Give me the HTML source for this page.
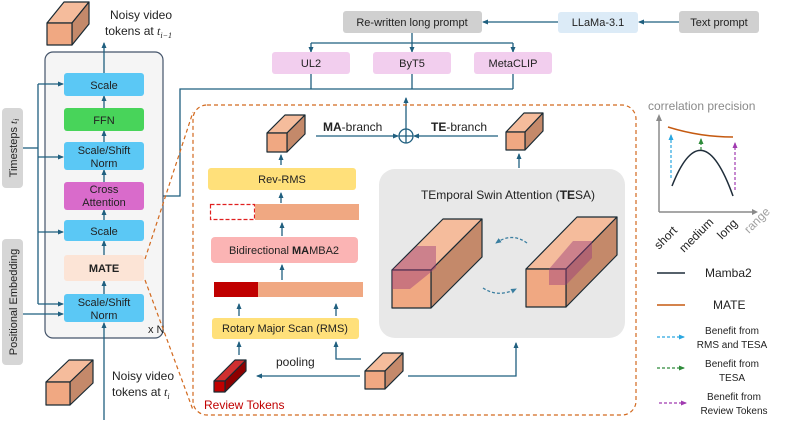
<!DOCTYPE html>
<html><head><meta charset="utf-8"><style>
html,body{margin:0;padding:0;background:#fff;}
svg{display:block;font-family:"Liberation Sans",sans-serif;}
</style></head><body>
<svg width="789" height="425" viewBox="0 0 789 425" xmlns="http://www.w3.org/2000/svg">
<defs>
<marker id="a" markerWidth="6" markerHeight="6" refX="5" refY="3" orient="auto" markerUnits="userSpaceOnUse"><path d="M0,0.5 L6,3 L0,5.5z" fill="#1F5F7F"/></marker>
<marker id="ab" markerWidth="6" markerHeight="6" refX="5" refY="3" orient="auto" markerUnits="userSpaceOnUse"><path d="M0,0.5 L6,3 L0,5.5z" fill="#2AA7E0"/></marker>
<marker id="ag" markerWidth="6" markerHeight="6" refX="5" refY="3" orient="auto" markerUnits="userSpaceOnUse"><path d="M0,0.5 L6,3 L0,5.5z" fill="#2E8B3A"/></marker>
<marker id="ap" markerWidth="6" markerHeight="6" refX="5" refY="3" orient="auto" markerUnits="userSpaceOnUse"><path d="M0,0.5 L6,3 L0,5.5z" fill="#A03AB0"/></marker>
<marker id="ac" markerWidth="6" markerHeight="6" refX="5" refY="3" orient="auto" markerUnits="userSpaceOnUse"><path d="M0,0.5 L6,3 L0,5.5z" fill="#3A7EA0"/></marker>
</defs>

<rect x="343" y="11" width="139" height="22" rx="3" fill="#D0D0D0"/>
<text x="412" y="26" font-size="11" text-anchor="middle" fill="#222">Re-written long prompt</text>
<rect x="558" y="12" width="80" height="21" rx="3" fill="#DCEBF7"/>
<text x="598" y="26" font-size="11" text-anchor="middle" fill="#222">LLaMa-3.1</text>
<rect x="679" y="11" width="80" height="22" rx="3" fill="#D0D0D0"/>
<text x="719" y="26" font-size="11" text-anchor="middle" fill="#222">Text prompt</text>
<g stroke="#1F5F7F" stroke-width="1.3" fill="none">
<line x1="679" y1="22" x2="639" y2="22" marker-end="url(#a)"/>
<line x1="558" y1="22" x2="483" y2="22" marker-end="url(#a)"/>
<line x1="412" y1="33" x2="412" y2="43"/>
<line x1="311" y1="43" x2="513" y2="43"/>
<line x1="311" y1="43" x2="311" y2="52" marker-end="url(#a)"/>
<line x1="412" y1="43" x2="412" y2="52" marker-end="url(#a)"/>
<line x1="513" y1="43" x2="513" y2="52" marker-end="url(#a)"/>
<line x1="311" y1="74" x2="311" y2="89"/>
<line x1="412" y1="74" x2="412" y2="89"/>
<line x1="513" y1="74" x2="513" y2="89"/>
<polyline points="513,89 180,89 180,196 146,196" marker-end="url(#a)"/>
<line x1="406" y1="129" x2="406" y2="98" marker-end="url(#a)"/>
</g>
<rect x="272" y="52" width="78" height="22" rx="3" fill="#F2CEEE"/>
<text x="311" y="67" font-size="11" text-anchor="middle" fill="#222">UL2</text>
<rect x="373" y="52" width="78" height="22" rx="3" fill="#F2CEEE"/>
<text x="412" y="67" font-size="11" text-anchor="middle" fill="#222">ByT5</text>
<rect x="474" y="52" width="78" height="22" rx="3" fill="#F2CEEE"/>
<text x="513" y="67" font-size="11" text-anchor="middle" fill="#222">MetaCLIP</text>

<rect x="2" y="108" width="21" height="80" rx="4" fill="#D6D6D6"/>
<text transform="translate(17,148) rotate(-90)" font-size="11" text-anchor="middle" fill="#222">Timesteps <tspan font-style="italic" font-family="Liberation Serif">t<tspan font-size="8" dy="2">i</tspan></tspan></text>
<rect x="2" y="239" width="21" height="126" rx="4" fill="#D6D6D6"/>
<text transform="translate(17,302) rotate(-90)" font-size="11" text-anchor="middle" fill="#222">Positional Embedding</text>

<rect x="45" y="52" width="118" height="286" rx="8" fill="#F5F5F5" stroke="#44546A" stroke-width="1.2"/>
<text x="148" y="333" font-size="11" fill="#222">x N</text>
<g stroke="#1F5F7F" stroke-width="1.3" fill="none">
<line x1="104" y1="420" x2="104" y2="323" marker-end="url(#a)"/>
<line x1="104" y1="294" x2="104" y2="281" marker-end="url(#a)"/>
<line x1="104" y1="255" x2="104" y2="241" marker-end="url(#a)"/>
<line x1="104" y1="220" x2="104" y2="210" marker-end="url(#a)"/>
<line x1="104" y1="182" x2="104" y2="170" marker-end="url(#a)"/>
<line x1="104" y1="142" x2="104" y2="131" marker-end="url(#a)"/>
<line x1="104" y1="108" x2="104" y2="96" marker-end="url(#a)"/>
<line x1="104" y1="73" x2="104" y2="43" marker-end="url(#a)"/>
<line x1="23" y1="148" x2="38" y2="148"/>
<line x1="38" y1="84" x2="38" y2="304"/>
<line x1="38" y1="84" x2="63" y2="84" marker-end="url(#a)"/>
<line x1="38" y1="157" x2="63" y2="157" marker-end="url(#a)"/>
<line x1="38" y1="232" x2="63" y2="232" marker-end="url(#a)"/>
<line x1="38" y1="304" x2="63" y2="304" marker-end="url(#a)"/>
<line x1="23" y1="314" x2="63" y2="314" marker-end="url(#a)"/>
</g>
<rect x="64" y="73" width="80" height="23" rx="3" fill="#5BC8F5"/>
<text x="104" y="89" font-size="11" text-anchor="middle" fill="#222">Scale</text>
<rect x="64" y="108" width="80" height="23" rx="3" fill="#48D45A"/>
<text x="104" y="124" font-size="11" text-anchor="middle" fill="#222">FFN</text>
<rect x="64" y="142" width="80" height="28" rx="3" fill="#5BC8F5"/>
<text x="104" y="154" font-size="11" text-anchor="middle" fill="#222">Scale/Shift</text>
<text x="104" y="167" font-size="11" text-anchor="middle" fill="#222">Norm</text>
<rect x="64" y="182" width="80" height="28" rx="3" fill="#D96BCB"/>
<text x="104" y="193" font-size="11" text-anchor="middle" fill="#222">Cross</text>
<text x="104" y="206" font-size="11" text-anchor="middle" fill="#222">Attention</text>
<rect x="64" y="220" width="80" height="21" rx="3" fill="#5BC8F5"/>
<text x="104" y="235" font-size="11" text-anchor="middle" fill="#222">Scale</text>
<rect x="64" y="255" width="80" height="26" rx="3" fill="#FCE4D6"/>
<text x="104" y="272" font-size="11" font-weight="bold" text-anchor="middle" fill="#222">MATE</text>
<rect x="64" y="294" width="80" height="28" rx="3" fill="#5BC8F5"/>
<text x="104" y="306" font-size="11" text-anchor="middle" fill="#222">Scale/Shift</text>
<text x="104" y="319" font-size="11" text-anchor="middle" fill="#222">Norm</text>

<g stroke="#1a2a33" stroke-width="1.2" stroke-linejoin="round">
<polygon points="47,23 64,2 89,2 72,23" fill="#F5BC9C"/>
<polygon points="72,23 89,2 89,24 72,45" fill="#C4896A"/>
<rect x="47" y="23" width="25" height="22" fill="#F0A882"/>
<polygon points="46,382 69,360 93,360 70,382" fill="#F5BC9C"/>
<polygon points="70,382 93,360 93,383 70,405" fill="#C4896A"/>
<rect x="46" y="382" width="24" height="23" fill="#F0A882"/>
<polygon points="267,133 285,115 305,115 287,133" fill="#F5BC9C"/>
<polygon points="287,133 305,115 305,134 287,152" fill="#C4896A"/>
<rect x="267" y="133" width="20" height="19" fill="#F0A882"/>
<polygon points="506,132 524,113 543,113 525,132" fill="#F5BC9C"/>
<polygon points="525,132 543,113 543,131 525,150" fill="#C4896A"/>
<rect x="506" y="132" width="19" height="18" fill="#F0A882"/>
<polygon points="365,371 383,353 403,353 385,371" fill="#F5BC9C"/>
<polygon points="385,371 403,353 403,371 385,389" fill="#C4896A"/>
<rect x="365" y="371" width="20" height="18" fill="#F0A882"/>
<polygon points="214,381 235,360 246,360 225,381" fill="#D03030"/>
<polygon points="225,381 246,360 246,371 225,392" fill="#8E0000"/>
<rect x="214" y="381" width="11" height="11" fill="#C00000"/>
</g>
<text x="110" y="19" font-size="12" fill="#222">Noisy video</text>
<text x="105" y="35" font-size="12" fill="#222">tokens at <tspan font-style="italic" font-family="Liberation Serif">t<tspan font-size="8" dy="3">i−1</tspan></tspan></text>
<text x="112" y="380" font-size="12" fill="#222">Noisy video</text>
<text x="112" y="396" font-size="12" fill="#222">tokens at <tspan font-style="italic" font-family="Liberation Serif">t<tspan font-size="8" dy="3">i</tspan></tspan></text>

<g stroke="#D2691E" stroke-width="1.2" stroke-dasharray="4,3" fill="none">
<line x1="145" y1="259" x2="193" y2="112"/>
<line x1="145" y1="280" x2="193" y2="410"/>
<rect x="193" y="105" width="443" height="310" rx="14"/>
</g>

<g stroke="#1F5F7F" stroke-width="1.3" fill="none">
<line x1="316" y1="136" x2="398" y2="136" marker-end="url(#a)"/>
<line x1="498" y1="136" x2="414" y2="136" marker-end="url(#a)"/>
<circle cx="406" cy="136" r="7"/>
<line x1="399" y1="136" x2="413" y2="136"/>
<line x1="406" y1="129" x2="406" y2="143"/>
<line x1="281" y1="165" x2="281" y2="155" marker-end="url(#a)"/>
<line x1="281" y1="203" x2="281" y2="193" marker-end="url(#a)"/>
<line x1="282" y1="280" x2="282" y2="265" marker-end="url(#a)"/>
<line x1="282" y1="236" x2="282" y2="223" marker-end="url(#a)"/>
<line x1="239" y1="316" x2="239" y2="304" marker-end="url(#a)"/>
<line x1="336" y1="316" x2="336" y2="304" marker-end="url(#a)"/>
<line x1="239" y1="355" x2="239" y2="342" marker-end="url(#a)"/>
<polyline points="361,359 336,359 336,342" marker-end="url(#a)"/>
<line x1="360" y1="376" x2="257" y2="376" marker-end="url(#a)"/>
<polyline points="408,376 516,376 516,343" marker-end="url(#a)"/>
<line x1="519" y1="168" x2="519" y2="154" marker-end="url(#a)"/>
</g>
<text x="323" y="131" font-size="12" fill="#222"><tspan font-weight="bold">MA</tspan>-branch</text>
<text x="431" y="131" font-size="12" fill="#222"><tspan font-weight="bold">TE</tspan>-branch</text>
<rect x="208" y="168" width="148" height="22" rx="3" fill="#FFE07A"/>
<text x="282" y="183" font-size="11" text-anchor="middle" fill="#222">Rev-RMS</text>
<rect x="210.5" y="204.5" width="44" height="15" fill="none" stroke="#E02020" stroke-width="1.2" stroke-dasharray="4,2"/>
<rect x="255" y="204" width="104" height="16" fill="#F0A882"/>
<rect x="211" y="237" width="147" height="26" rx="4" fill="#FBB4B4"/>
<text x="284" y="254" font-size="11" text-anchor="middle" fill="#222">Bidirectional <tspan font-weight="bold">MA</tspan>MBA2</text>
<rect x="214" y="282" width="44" height="15" fill="#C00000"/>
<rect x="258" y="282" width="105" height="15" fill="#F0A882"/>
<rect x="212" y="318" width="147" height="21" rx="3" fill="#FFE07A"/>
<text x="285" y="332" font-size="11" text-anchor="middle" fill="#222">Rotary Major Scan (RMS)</text>
<text x="276" y="366" font-size="12" fill="#222">pooling</text>
<text x="204" y="409" font-size="12" fill="#C00000">Review Tokens</text>

<rect x="379" y="169" width="246" height="169" rx="16" fill="#E8E8E8"/>
<text x="508" y="199" font-size="12" text-anchor="middle" fill="#222">TEmporal Swin Attention (<tspan font-weight="bold">TE</tspan>SA)</text>
<g stroke="#1a2a33" stroke-width="1.2" stroke-linejoin="round">
<polygon points="392,270 443,219 482,219 431,270" fill="#F5BC9C"/>
<polygon points="431,270 482,219 482,257 431,308" fill="#C4896A"/>
<rect x="392" y="270" width="39" height="38" fill="#F0A882"/>
</g>
<g fill="#9B3A7A" fill-opacity="0.45">
<polygon points="392,270 417,246 436,246 436,268 410,289 392,289"/>
</g>
<g stroke="#1a2a33" stroke-width="1.2" stroke-linejoin="round">
<polygon points="526,269 577,217 617,217 566,269" fill="#F5BC9C"/>
<polygon points="566,269 617,217 617,255 566,307" fill="#C4896A"/>
<rect x="526" y="269" width="40" height="38" fill="#F0A882"/>
</g>
<g fill="#9B3A7A" fill-opacity="0.45">
<polygon points="549,269 573,241 592,241 592,258 566,285 549,285"/>
</g>
<g stroke="#3A7EA0" stroke-width="1.3" stroke-dasharray="3,2" fill="none">
<path d="M527,243 Q512,232 496,243" marker-end="url(#ac)"/>
<path d="M483,288 Q498,298 516,289" marker-end="url(#ac)"/>
</g>

<text x="648" y="110" font-size="12" fill="#8A8A8A">correlation precision</text>
<g stroke="#8A8A8A" stroke-width="1.5" fill="none">
<line x1="659" y1="212" x2="659" y2="120"/>
<line x1="659" y1="212" x2="753" y2="212"/>
</g>
<path d="M752,209 L758,212 L752,215z" fill="#8A8A8A"/>
<path d="M656,121 L659,114 L662,121z" fill="#8A8A8A"/>
<path d="M668,127 Q700,137 733,137" stroke="#C55A11" stroke-width="1.5" fill="none"/>
<path d="M672,186 Q702,110 733,196" stroke="#1F2D3A" stroke-width="1.5" fill="none"/>
<line x1="671" y1="178" x2="671" y2="135" stroke="#2AA7E0" stroke-width="1.2" stroke-dasharray="3,2" marker-end="url(#ab)"/>
<line x1="701" y1="150" x2="701" y2="139" stroke="#2E8B3A" stroke-width="1.2" stroke-dasharray="3,2" marker-end="url(#ag)"/>
<line x1="735" y1="190" x2="735" y2="143" stroke="#A03AB0" stroke-width="1.2" stroke-dasharray="3,2" marker-end="url(#ap)"/>
<g font-size="12" fill="#222">
<text transform="translate(659,250) rotate(-45)">short</text>
<text transform="translate(684,253) rotate(-45)">medium</text>
<text transform="translate(722,240) rotate(-45)">long</text>
<text transform="translate(749,234) rotate(-45)" fill="#A0A0A0">range</text>
</g>
<line x1="657" y1="273" x2="685" y2="273" stroke="#1F2D3A" stroke-width="1.5"/>
<text x="705" y="277" font-size="12" fill="#222">Mamba2</text>
<line x1="657" y1="305" x2="685" y2="305" stroke="#C55A11" stroke-width="1.5"/>
<text x="713" y="309" font-size="12" fill="#222">MATE</text>
<line x1="657" y1="337" x2="684" y2="337" stroke="#2AA7E0" stroke-width="1.2" stroke-dasharray="3,2" marker-end="url(#ab)"/>
<text x="732" y="334" font-size="10" text-anchor="middle" fill="#222">Benefit from</text>
<text x="732" y="348" font-size="10" text-anchor="middle" fill="#222">RMS and TESA</text>
<line x1="657" y1="368" x2="684" y2="368" stroke="#2E8B3A" stroke-width="1.2" stroke-dasharray="3,2" marker-end="url(#ag)"/>
<text x="732" y="367" font-size="10" text-anchor="middle" fill="#222">Benefit from</text>
<text x="732" y="381" font-size="10" text-anchor="middle" fill="#222">TESA</text>
<line x1="659" y1="403" x2="686" y2="403" stroke="#A03AB0" stroke-width="1.2" stroke-dasharray="3,2" marker-end="url(#ap)"/>
<text x="734" y="400" font-size="10" text-anchor="middle" fill="#222">Benefit from</text>
<text x="734" y="414" font-size="10" text-anchor="middle" fill="#222">Review Tokens</text>
</svg>
</body></html>
